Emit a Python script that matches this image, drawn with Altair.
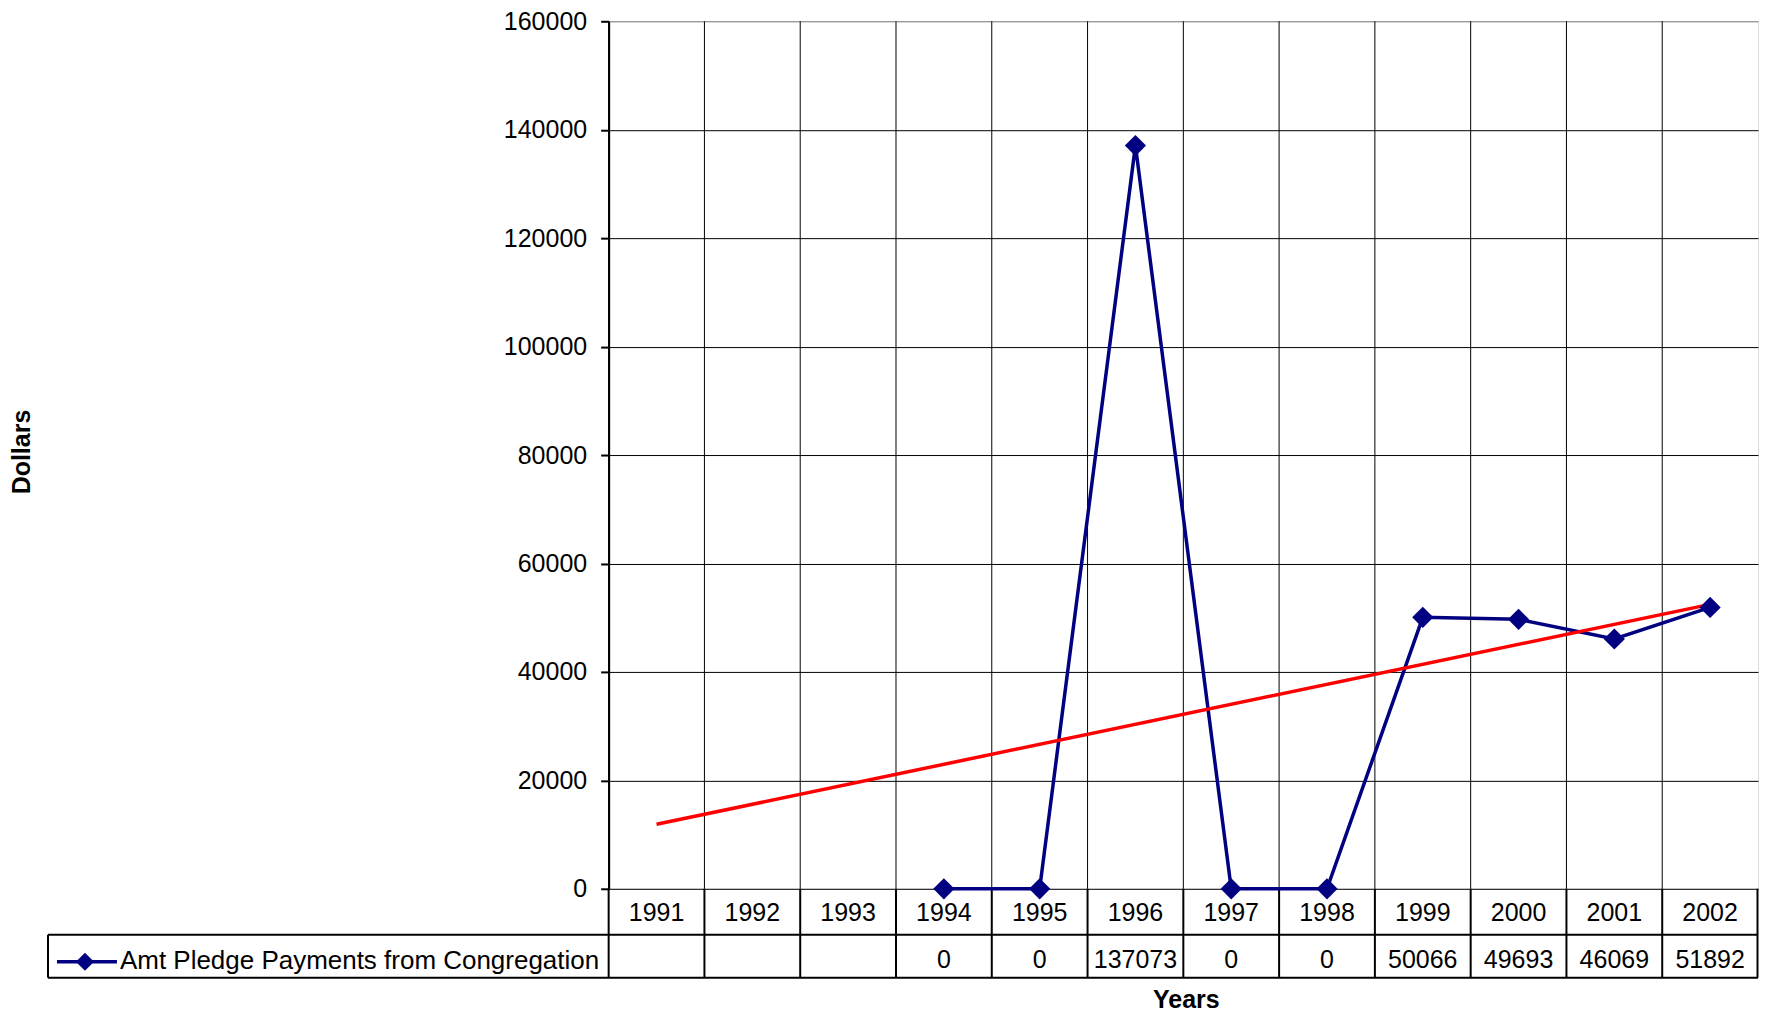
import altair as alt
import pandas as pd

years = ["1991", "1992", "1993", "1994", "1995", "1996", "1997", "1998", "1999", "2000", "2001", "2002"]
payments = [None, None, None, 0, 0, 137073, 0, 0, 50066, 49693, 46069, 51892]
trend_years = ["1991", "2002"]
trend_values = [11900, 52450]
series_name = "Amt Pledge Payments from Congregation"
y_ticks = [0, 20000, 40000, 60000, 80000, 100000, 120000, 140000, 160000]

W, H = 1150, 868
FONT = "Liberation Sans"
FS = 25
NAVY = "#000080"
ROW = 914      # line between year row and value row
TB = 957       # table bottom

df = pd.DataFrame({"year": years, "value": payments})
df_vals = df.dropna().copy()
df_vals["label"] = df_vals["value"].astype(int).astype(str)
df_trend = pd.DataFrame({"year": trend_years, "value": trend_values})
one = pd.DataFrame({"a": [1]})
df_years = pd.DataFrame({"year": years})

xscale = alt.Scale(type="band", domain=years, paddingInner=0, paddingOuter=0)
yscale = alt.Scale(domain=[0, 160000], nice=False)

xenc = alt.X("year:O", scale=xscale,
             axis=alt.Axis(labels=False, ticks=False, grid=False, title=None,
                           domainColor="black", domainWidth=2))
yaxis = alt.Axis(values=y_ticks, title=None, grid=True,
                 gridColor=alt.condition("datum.value == 160000", alt.value("#808080"), alt.value("black")),
                 gridWidth=1, domainColor="black", domainWidth=2, tickColor="black",
                 tickSize=8, tickWidth=2, labelPadding=14, labelFontSize=FS, labelFont=FONT,
                 labelColor="black", format="d")

vlines = alt.Chart(df_years).mark_rule(color="black", strokeWidth=1).encode(
    x=alt.X("year:O", scale=xscale, bandPosition=0, axis=None),
    y=alt.value(0), y2=alt.value(H))
tvlines = alt.Chart(df_years).mark_rule(color="black", strokeWidth=2).encode(
    x=alt.X("year:O", scale=xscale, bandPosition=0, axis=None),
    y=alt.value(H), y2=alt.value(TB))
right_edge = alt.Chart(one).mark_rule(color="black", strokeWidth=2).encode(
    x=alt.value(W - 0.5), y=alt.value(H), y2=alt.value(TB))
hline1 = alt.Chart(one).mark_rule(color="black", strokeWidth=2).encode(
    x=alt.value(-561), x2=alt.value(W), y=alt.value(ROW))
hline2 = alt.Chart(one).mark_rule(color="black", strokeWidth=2).encode(
    x=alt.value(-561), x2=alt.value(W), y=alt.value(TB))
lline = alt.Chart(one).mark_rule(color="black", strokeWidth=2).encode(
    x=alt.value(-561), y=alt.value(ROW), y2=alt.value(TB))

line = alt.Chart(df_vals).mark_line(color=NAVY, strokeWidth=3.5).encode(
    x=xenc, y=alt.Y("value:Q", scale=yscale, axis=yaxis))
pts = alt.Chart(df_vals).mark_point(shape="diamond", filled=True, color=NAVY, size=450, opacity=1).encode(
    x=alt.X("year:O", scale=xscale), y=alt.Y("value:Q", scale=yscale))
trend = alt.Chart(df_trend).mark_line(color="#FF0000", strokeWidth=3.5).encode(
    x=alt.X("year:O", scale=xscale), y=alt.Y("value:Q", scale=yscale))

year_txt = alt.Chart(df_years).mark_text(
    font=FONT, fontSize=FS, color="black", baseline="middle", align="center").encode(
    x=alt.X("year:O", scale=xscale), y=alt.value(892), text="year:N")
val_txt = alt.Chart(df_vals).mark_text(
    font=FONT, fontSize=FS, color="black", baseline="middle", align="center").encode(
    x=alt.X("year:O", scale=xscale), y=alt.value(939), text="label:N")

leg_line = alt.Chart(one).mark_rule(color=NAVY, strokeWidth=3.5).encode(
    x=alt.value(-552), x2=alt.value(-492), y=alt.value(941))
leg_pt = alt.Chart(one).mark_point(shape="diamond", filled=True, color=NAVY, size=330, opacity=1).encode(
    x=alt.value(-524), y=alt.value(941))
leg_txt = alt.Chart(pd.DataFrame({"t": [series_name]})).mark_text(
    font=FONT, fontSize=26, color="black", baseline="middle", align="left").encode(
    x=alt.value(-489), y=alt.value(940), text="t:N")

xtitle = alt.Chart(pd.DataFrame({"t": ["Years"]})).mark_text(
    font=FONT, fontSize=25, fontWeight="bold", color="black", baseline="middle", align="center").encode(
    x=alt.value(W / 2 + 3), y=alt.value(979), text="t:N")
ytitle = alt.Chart(pd.DataFrame({"t": ["Dollars"]})).mark_text(
    font=FONT, fontSize=25, fontWeight="bold", color="black", baseline="middle", align="center", angle=270).encode(
    x=alt.value(-587), y=alt.value(431), text="t:N")

chart = alt.layer(
    vlines, tvlines, right_edge, hline1, hline2, lline,
    line, trend, pts, year_txt, val_txt, leg_line, leg_pt, leg_txt, xtitle, ytitle
).properties(
    width=W, height=H,
    autosize=alt.AutoSizeParams(type="none"),
    padding={"left": 601, "top": 13, "right": 1, "bottom": 124},
).configure_view(stroke="#808080", strokeWidth=1).configure(background="white")

chart.save("out.html", embed_options={"renderer": "svg", "actions": False})
